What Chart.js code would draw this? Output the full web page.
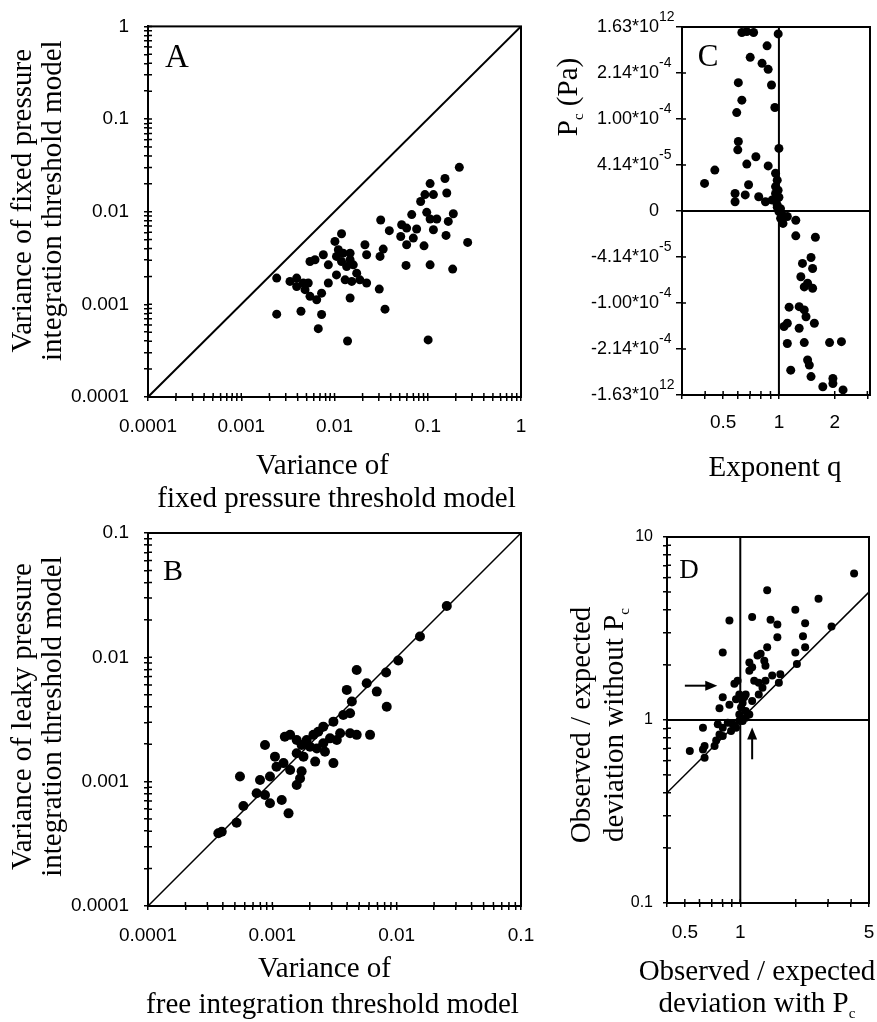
<!DOCTYPE html>
<html>
<head>
<meta charset="utf-8">
<script src="https://cdn.jsdelivr.net/npm/chart.js@4.4.1/dist/chart.umd.min.js"></script>
<style>
  body { margin: 0; background: #fff; overflow: hidden; }
  #wrap { position: relative; width: 877px; height: 1022px; overflow: hidden; background: #fff; }
  #wrap canvas { position: absolute; left: 0; top: 0; }
</style>
</head>
<body>
<div id="wrap">
  <canvas id="chartA" width="920" height="1022"></canvas>
  <canvas id="chartB" width="920" height="1022"></canvas>
  <canvas id="chartC" width="920" height="1022"></canvas>
  <canvas id="chartD" width="920" height="1022"></canvas>
</div>
<script>
// Panel A: fixed pressure threshold model vs fixed pressure integration threshold model
const varFixedA = [0.218, 0.153, 0.106, 0.160, 0.0933, 0.115, 0.0839, 0.0673, 0.0975, 0.188,
  0.106, 0.125, 0.166, 0.0313, 0.0525, 0.0387, 0.0594, 0.076, 0.115, 0.157,
  0.0513, 0.070, 0.0594, 0.0912, 0.268, 0.0119, 0.0101, 0.011, 0.0212, 0.0221,
  0.0333, 0.0308, 0.0124, 0.0147, 0.0135, 0.0159, 0.00759, 0.00618, 0.00546, 0.00859,
  0.0585, 0.106, 0.185, 0.0024, 0.00333, 0.00393, 0.00463, 0.00523, 0.00393, 0.00483,
  0.00546, 0.00644, 0.00727, 0.00859, 0.0105, 0.013, 0.0153, 0.0187, 0.0221, 0.0302,
  0.0147, 0.0348, 0.0024, 0.00437, 0.00727, 0.0067, 0.0138, 0.101, 0.0105, 0.0119,
  0.0147, 0.0173];
const varIntegA = [0.0301, 0.0228, 0.0201, 0.0159, 0.0153, 0.0153, 0.0129, 0.0093, 0.00984, 0.0095,
  0.00834, 0.00834, 0.00785, 0.00813, 0.00723, 0.00624, 0.00665, 0.0065, 0.00638, 0.00555,
  0.0054, 0.00519, 0.0044, 0.00428, 0.00466, 0.00578, 0.00478, 0.00388, 0.0044, 0.00343,
  0.00395, 0.00329, 0.00357, 0.00303, 0.00256, 0.00267, 0.00343, 0.00303, 0.0029, 0.00267,
  0.00263, 0.00267, 0.0024, 0.00192, 0.00177, 0.00192, 0.0017, 0.0017, 0.00156, 0.00144,
  0.00122, 0.00112, 0.00132, 0.0017, 0.00208, 0.00184, 0.00177, 0.00184, 0.0017, 0.00146,
  0.00117, 0.000887, 0.000784, 0.000843, 0.000776, 0.000547, 0.000402, 0.000413, 0.00329, 0.0029,
  0.00357, 0.00217];

// Panel B: free integration vs leaky pressure integration threshold model
const varFreeB = [0.0253, 0.0154, 0.0103, 0.00822, 0.00477, 0.00574, 0.00397, 0.00692, 0.00832, 0.00436,
  0.00422, 0.00372, 0.0031, 0.00422, 0.00477, 0.00611, 0.00257, 0.00234, 0.00214, 0.00189,
  0.00139, 0.00126, 0.00157, 0.00172, 0.00201, 0.00228, 0.00257, 0.00291, 0.0033, 0.00351,
  0.00157, 0.00178, 0.00221, 0.0031, 0.00265, 0.000873, 0.00105, 0.00123, 0.00108, 0.00139,
  0.00172, 0.000957, 0.000796, 0.000549, 0.000748, 0.000873, 0.000957, 0.00119, 0.00157, 0.00167,
  0.00135, 0.000585, 0.000516, 0.000392, 0.000368];
const varLeakyB = [0.0259, 0.0147, 0.00942, 0.00754, 0.00792, 0.00619, 0.00547, 0.0053, 0.00401, 0.00441,
  0.00355, 0.00344, 0.00304, 0.00245, 0.00238, 0.00238, 0.00277, 0.00252, 0.00238, 0.00216,
  0.00238, 0.0023, 0.00216, 0.00197, 0.00191, 0.00185, 0.00204, 0.00223, 0.00216, 0.00245,
  0.00169, 0.00159, 0.00145, 0.00141, 0.00174, 0.00197, 0.00159, 0.00141, 0.00132, 0.00124,
  0.00121, 0.0011, 0.00103, 0.0011, 0.000807, 0.000782, 0.00067, 0.000713, 0.00094, 0.00106,
  0.000556, 0.000638, 0.000468, 0.000396, 0.000385];

// Panel C: exponent q vs Pc, Pc given on the figure's arctan scale (one step per tick label)
const exponentQ = [0.631, 0.671, 0.730, 0.991, 0.863, 0.700, 0.811, 0.875, 0.912, 0.604,
  0.631, 0.592, 0.951, 0.604, 0.600, 1.0, 0.751, 0.671, 0.875, 0.451,
  0.397, 0.959, 0.979, 0.959, 0.686, 0.580, 0.580, 0.658, 0.778, 0.846,
  0.920, 0.959, 0.979, 1.0, 1.021, 1.052, 1.11, 1.233, 1.233, 1.573,
  1.49, 1.34, 1.52, 1.313, 1.428, 1.37, 1.52, 1.286, 1.135, 1.37,
  1.4, 1.11, 1.065, 1.553, 1.286, 1.11, 1.37, 1.876, 2.174, 1.428,
  1.459, 1.158, 1.49, 1.725, 1.955, 1.955, 2.218,
  0.99, 1.0, 0.97, 1.02, 1.04, 0.98];
const pcScaled = [3.88, 3.90, 3.88, 3.85, 3.59, 3.34, 3.21, 3.08, 2.74, 2.79,
  2.41, 2.14, 2.25, 1.51, 1.33, 1.36, 1.18, 1.02, 0.98, 0.89,
  0.60, 0.82, 0.67, 0.53, 0.57, 0.38, 0.20, 0.35, 0.31, 0.20,
  0.24, 0.38, 0.13, -0.01, -0.16, -0.27, -0.12, -0.20, -0.54, -0.57,
  -1.01, -1.14, -1.25, -1.43, -1.57, -1.65, -1.68, -2.08, -2.09, -2.15,
  -2.30, -2.44, -2.51, -2.44, -2.55, -2.88, -2.86, -2.86, -2.84, -3.24,
  -3.35, -3.46, -3.60, -3.82, -3.64, -3.75, -3.89,
  0.45, 0.30, 0.25, 0.05, -0.08, 0.08];
const pcTickBase = ['-1.63*10', '-2.14*10', '-1.00*10', '-4.14*10', '0', '4.14*10', '1.00*10', '2.14*10', '1.63*10'];
const pcTickExp = ['12', '-4', '-4', '-5', '', '-5', '-4', '-4', '12'];

// Panel D: observed / expected deviation with and without Pc
const devWithPc = [4.15, 2.66, 1.40, 1.99, 1.59, 1.16, 0.873, 1.46, 2.25, 3.13,
  1.59, 2.19, 1.40, 0.803, 1.99, 2.25, 1.12, 1.24, 1.29, 1.35,
  1.37, 2.03, 1.65, 1.49, 1.37, 1.26, 1.19, 0.929, 0.967, 0.803,
  0.873, 0.771, 1.12, 1.16, 1.05, 1.03, 1.01, 1.07, 1.12, 1.16,
  1.26, 1.07, 0.988, 0.91, 0.855, 0.803, 0.755, 0.948, 0.891, 0.771,
  0.803, 0.74, 0.725, 0.627, 0.64, 0.627, 0.64, 0.532, 0.988, 1.03,
  1.07, 0.988, 0.948, 1.32, 1.62];
const devWithoutPc = [6.31, 4.6, 5.11, 4.0, 3.33, 3.65, 3.5, 3.53, 3.38, 3.24,
  2.83, 2.87, 2.5, 2.34, 2.34, 2.5, 2.06, 2.25, 2.3, 2.11,
  1.98, 2.02, 1.78, 1.75, 1.64, 1.6, 1.64, 1.58, 1.64, 1.33,
  1.21, 1.16, 1.86, 1.94, 1.33, 1.24, 1.17, 1.12, 1.07, 1.27,
  1.38, 1.03, 0.987, 0.947, 0.966, 0.907, 0.947, 0.907, 0.87, 0.834,
  0.817, 0.773, 0.72, 0.907, 0.72, 0.69, 0.621, 0.676, 1.07, 0.987,
  1.38, 1.38, 1.3, 1.5, 1.6];

// axis ranges and labelled ticks
const rangeA = [0.0001, 1], ticksA = [0.0001, 0.001, 0.01, 0.1, 1];
const rangeB = [0.0001, 0.1], ticksB = [0.0001, 0.001, 0.01, 0.1];
const rangeQ = [0.3, 3.1], ticksQ = [0.5, 1, 2];
const rangeDx = [0.4, 5], ticksDx = [0.5, 1, 5];
const rangeDy = [0.1, 10], ticksDy = [0.1, 1, 10];

Chart.defaults.font.family = '"Liberation Sans", Arial, sans-serif';
Chart.defaults.font.size = 19;
Chart.defaults.color = '#000';
const SERIF = '"Liberation Serif", "Times New Roman", serif';

function logTicks(min, max) {
  const out = [];
  for (let e = Math.floor(Math.log10(min)); e <= Math.ceil(Math.log10(max)); e++) {
    for (let m = 1; m < 10; m++) {
      const v = m * Math.pow(10, e);
      if (v >= min * 0.999 && v <= max * 1.001) out.push(v);
    }
  }
  return out;
}

function labelFor(list) {
  return v => {
    const hit = list.find(t => Math.abs(Math.log10(t / v)) < 1e-6);
    return hit === undefined ? '' : String(hit);
  };
}

function logAxis(range, labelled, pad, size) {
  return {
    type: 'logarithmic', min: range[0], max: range[1],
    afterBuildTicks: s => { s.ticks = logTicks(range[0], range[1]).map(v => ({ value: v })); },
    ticks: { autoSkip: false, maxRotation: 0, minRotation: 0, padding: pad, font: { size }, callback: labelFor(labelled) },
    grid: { drawOnChartArea: false, color: '#000', lineWidth: 1.5, tickLength: 4 },
    border: { color: '#000', width: 2 }
  };
}

function points(xs, ys, r) {
  return { data: xs.map((x, i) => ({ x, y: ys[i] })), pointRadius: r, pointHoverRadius: r,
    backgroundColor: '#000', borderWidth: 0, clip: 0 };
}

function segment(x0, y0, x1, y1, w) {
  return { data: [{ x: x0, y: y0 }, { x: x1, y: y1 }], showLine: true, borderColor: '#000',
    borderWidth: w, pointRadius: 0, clip: 0 };
}

// text with optional subscript parts, centred on x, baseline on y
function drawRich(ctx, parts, x, y, size, rot) {
  ctx.save();
  ctx.translate(x, y);
  if (rot) ctx.rotate(rot);
  ctx.fillStyle = '#000';
  ctx.textBaseline = 'alphabetic';
  ctx.textAlign = 'left';
  const fontFor = p => (p.sub ? Math.round(size * 0.5) : size) + 'px ' + SERIF;
  let w = 0;
  parts.forEach(p => { ctx.font = fontFor(p); w += ctx.measureText(p.t).width; });
  let cx = -w / 2;
  parts.forEach(p => {
    ctx.font = fontFor(p);
    ctx.fillText(p.t, cx, p.sub ? size * 0.2 : 0);
    cx += ctx.measureText(p.t).width;
  });
  ctx.restore();
}

function arrow(ctx, x0, y0, x1, y1) {
  const ang = Math.atan2(y1 - y0, x1 - x0);
  ctx.save();
  ctx.strokeStyle = '#000'; ctx.fillStyle = '#000'; ctx.lineWidth = 2;
  ctx.beginPath(); ctx.moveTo(x0, y0);
  ctx.lineTo(x1 - 9 * Math.cos(ang), y1 - 9 * Math.sin(ang)); ctx.stroke();
  ctx.translate(x1, y1); ctx.rotate(ang);
  ctx.beginPath(); ctx.moveTo(0, 0); ctx.lineTo(-12, -5); ctx.lineTo(-12, 5); ctx.closePath(); ctx.fill();
  ctx.restore();
}

// the figure's ticks cross the axis: add the inner half
function innerTicks(c, ctx, a) {
  ctx.save();
  ctx.strokeStyle = '#000'; ctx.lineWidth = 1.5;
  ctx.beginPath();
  c.scales.x.ticks.forEach(t => {
    const px = c.scales.x.getPixelForValue(t.value);
    ctx.moveTo(px, a.bottom); ctx.lineTo(px, a.bottom - 4);
  });
  c.scales.y.ticks.forEach(t => {
    const py = c.scales.y.getPixelForValue(t.value);
    ctx.moveTo(a.left, py); ctx.lineTo(a.left + 4, py);
  });
  ctx.stroke();
  ctx.restore();
}

function panel(id, box, datasets, scales, decorate) {
  const chart = new Chart(document.getElementById(id), {
    type: 'scatter',
    data: { datasets },
    options: {
      responsive: false, animation: false, devicePixelRatio: 1,
      layout: { padding: { left: 0, top: 0, right: 0, bottom: 0 } },
      plugins: { legend: { display: false }, tooltip: { enabled: false } },
      scales
    },
    plugins: [{
      id: 'deco',
      afterDraw(c) {
        const a = c.chartArea, ctx = c.ctx;
        ctx.save();
        ctx.strokeStyle = '#000'; ctx.lineWidth = 2;
        ctx.strokeRect(a.left, a.top, a.right - a.left, a.bottom - a.top);
        ctx.restore();
        innerTicks(c, ctx, a);
        decorate(c, ctx, a);
      }
    }]
  });
  // move the plot area to where the figure has it
  for (let k = 0; k < 2; k++) {
    const a = chart.chartArea, p = chart.config.options.layout.padding;
    chart.config.options.layout.padding = {
      left: p.left + box.l - a.left, top: p.top + box.t - a.top,
      right: p.right + a.right - box.r, bottom: p.bottom + a.bottom - box.b
    };
    chart.update();
  }
  return chart;
}

// ---- A ----
panel('chartA', { l: 148, t: 27, r: 521, b: 397 },
  [segment(rangeA[0], rangeA[0], rangeA[1], rangeA[1], 2), points(varFixedA, varIntegA, 4.5)],
  { x: logAxis(rangeA, ticksA, 14, 19), y: logAxis(rangeA, ticksA, 15, 19) },
  (c, ctx, a) => {
    const cx = (a.left + a.right) / 2, cy = (a.top + a.bottom) / 2;
    drawRich(ctx, [{ t: 'A' }], a.left + 29, a.top + 41, 33);
    drawRich(ctx, [{ t: 'Variance of' }], cx - 12, a.bottom + 77, 29);
    drawRich(ctx, [{ t: 'fixed pressure threshold model' }], cx + 2, a.bottom + 110, 29);
    drawRich(ctx, [{ t: 'Variance of fixed pressure' }], a.left - 117, cy - 11, 29, -Math.PI / 2);
    drawRich(ctx, [{ t: 'integration threshold model' }], a.left - 87, cy - 11, 29, -Math.PI / 2);
  });

// ---- B ----
panel('chartB', { l: 148, t: 533, r: 521, b: 906 },
  [segment(rangeB[0], rangeB[0], rangeB[1], rangeB[1], 1.5), points(varFreeB, varLeakyB, 5)],
  { x: logAxis(rangeB, ticksB, 14, 19), y: logAxis(rangeB, ticksB, 15, 19) },
  (c, ctx, a) => {
    const cx = (a.left + a.right) / 2, cy = (a.top + a.bottom) / 2;
    drawRich(ctx, [{ t: 'B' }], a.left + 25, a.top + 47, 30);
    drawRich(ctx, [{ t: 'Variance of' }], cx - 10, a.bottom + 71, 29);
    drawRich(ctx, [{ t: 'free integration threshold model' }], cx - 2, a.bottom + 107, 29);
    drawRich(ctx, [{ t: 'Variance of leaky pressure' }], a.left - 117, cy - 3, 29, -Math.PI / 2);
    drawRich(ctx, [{ t: 'integration threshold model' }], a.left - 87, cy - 3, 29, -Math.PI / 2);
  });

// ---- C ----
panel('chartC', { l: 682, t: 27, r: 870, b: 395 },
  [segment(1, -4, 1, 4, 2), segment(rangeQ[0], 0, rangeQ[1], 0, 2), points(exponentQ, pcScaled, 4.5)],
  {
    x: logAxis(rangeQ, ticksQ, 12, 19),
    y: { type: 'linear', min: -4, max: 4, ticks: { stepSize: 1, display: false },
      grid: { drawOnChartArea: false, color: '#000', lineWidth: 1.5, tickLength: 6 },
      border: { color: '#000', width: 2 } }
  },
  (c, ctx, a) => {
    const ys = c.scales.y;
    ctx.save();
    ctx.fillStyle = '#000'; ctx.textBaseline = 'middle';
    pcTickBase.forEach((b, i) => {
      const py = ys.getPixelForValue(i - 4);
      ctx.font = '18px "Liberation Sans", Arial, sans-serif';
      ctx.textAlign = 'right';
      ctx.fillText(b, a.left - 23, py);
      if (pcTickExp[i]) {
        ctx.font = '14px "Liberation Sans", Arial, sans-serif';
        ctx.textAlign = 'left';
        ctx.fillText(pcTickExp[i], a.left - 23, py - 10);
      }
    });
    ctx.restore();
    drawRich(ctx, [{ t: 'C' }], a.left + 26, a.top + 39, 31);
    drawRich(ctx, [{ t: 'Exponent q' }], (a.left + a.right) / 2 - 1, a.bottom + 81, 29);
    drawRich(ctx, [{ t: 'P' }, { t: 'c', sub: true }, { t: ' (Pa)' }], a.left - 105, a.top + 70, 29, -Math.PI / 2);
  });

// ---- D ----
panel('chartD', { l: 667, t: 537, r: 869, b: 903 },
  [segment(rangeDx[0], rangeDx[0], rangeDx[1], rangeDx[1], 1.5),
   segment(1, rangeDy[0], 1, rangeDy[1], 2), segment(rangeDx[0], 1, rangeDx[1], 1, 2),
   points(devWithPc, devWithoutPc, 4)],
  { x: logAxis(rangeDx, ticksDx, 14, 19), y: logAxis(rangeDy, ticksDy, 10, 16) },
  (c, ctx, a) => {
    const xs = c.scales.x, ys = c.scales.y;
    arrow(ctx, xs.getPixelForValue(0.5), ys.getPixelForValue(1.54), xs.getPixelForValue(0.75), ys.getPixelForValue(1.54));
    arrow(ctx, xs.getPixelForValue(1.16), ys.getPixelForValue(0.61), xs.getPixelForValue(1.16), ys.getPixelForValue(0.91));
    const cx = (a.left + a.right) / 2, cy = (a.top + a.bottom) / 2;
    drawRich(ctx, [{ t: 'D' }], a.left + 22, a.top + 41, 27);
    drawRich(ctx, [{ t: 'Observed / expected' }], cx - 11, a.bottom + 77, 29);
    drawRich(ctx, [{ t: 'deviation with P' }, { t: 'c', sub: true }], cx - 11, a.bottom + 109, 29);
    drawRich(ctx, [{ t: 'Observed / expected' }], a.left - 77, cy + 5, 29, -Math.PI / 2);
    drawRich(ctx, [{ t: 'deviation without P' }, { t: 'c', sub: true }], a.left - 44, cy + 5, 29, -Math.PI / 2);
  });
</script>
</body>
</html>
